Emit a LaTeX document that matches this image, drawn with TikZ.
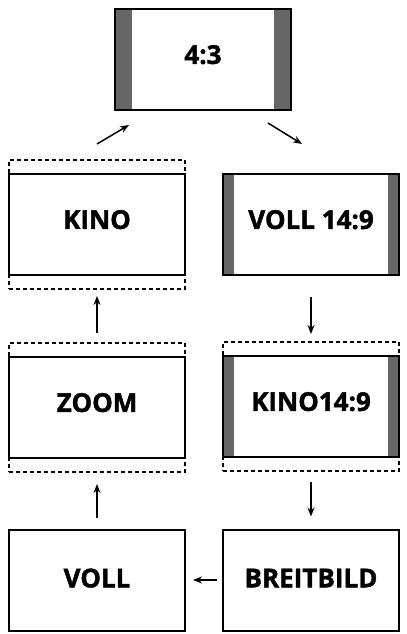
\documentclass[tikz,border=0pt]{standalone}
\usepackage{fontspec}
\setmainfont{Open Sans}[BoldFeatures={FakeBold=1.6}]
\usetikzlibrary{positioning,fit,arrows.meta}
\definecolor{balken}{HTML}{666666}
\tikzstyle{schirm} = [draw,line width=2bp,minimum width=176bp,minimum height=101bp,inner sep=0pt,outer sep=0pt,font=\fontsize{26bp}{30bp}\selectfont\bfseries,text depth=10bp]
\tikzstyle{rahmen} = [draw,line width=2bp,dash pattern=on 4bp off 3bp,inner xsep=0pt,inner ysep=14bp,outer sep=0pt]
\tikzstyle{pfeil} = [line width=1.5bp,-{Stealth[length=9bp,width=7bp]}]
\tikzset{seiten/.style={path picture={
  \fill[balken] (path picture bounding box.north west) rectangle ([xshift=#1]path picture bounding box.south west);
  \fill[balken] (path picture bounding box.north east) rectangle ([xshift=-#1]path picture bounding box.south east);}}}

\begin{document}
\begin{tikzpicture}[x=1bp,y=-1bp]
  \useasboundingbox (0,0) rectangle (406,634);
  % screens
  \node[schirm,seiten=17bp] (vier) at (203,59.5) {4:3};
  \node[schirm] (kino) at (97,224.5) {KINO};
  \node[schirm,seiten=11bp,right=38bp of kino] (vollvz) {VOLL 14:9};
  \node[schirm,below=82bp of kino] (zoom) {ZOOM};
  \node[schirm,seiten=11bp,below=81bp of vollvz] (kinovz) {KINO14:9};
  \node[schirm,text depth=4bp,below=71.5bp of zoom] (voll) {VOLL};
  \node[schirm,text depth=4bp,right=38bp of voll] (breit) {BREITBILD};
  % dotted frames
  \node[rahmen,fit=(kino)] (kinof) {};
  \node[rahmen,fit=(zoom)] (zoomf) {};
  \node[rahmen,fit=(kinovz)] (kinovzf) {};
  % arrows
  \draw[pfeil] ([yshift=16bp]kinof.north) -- ([shift={(14bp,-15bp)}]vier.south west);
  \draw[pfeil] ([shift={(-23bp,-13bp)}]vier.south east) -- ([shift={(-9bp,30bp)}]vollvz.north);
  \draw[pfeil,shorten <=22bp,shorten >=8bp] (vollvz.south) -- (kinovzf.north);
  \draw[pfeil,shorten <=11bp,shorten >=13bp] (kinovzf.south) -- (breit.north);
  \draw[pfeil,shorten <=6bp,shorten >=8bp] (breit.west) -- (voll.east);
  \draw[pfeil,shorten <=12bp,shorten >=12bp] (voll.north) -- (zoomf.south);
  \draw[pfeil,shorten <=10bp,shorten >=7bp] (zoomf.north) -- (kinof.south);
\end{tikzpicture}
\end{document}
